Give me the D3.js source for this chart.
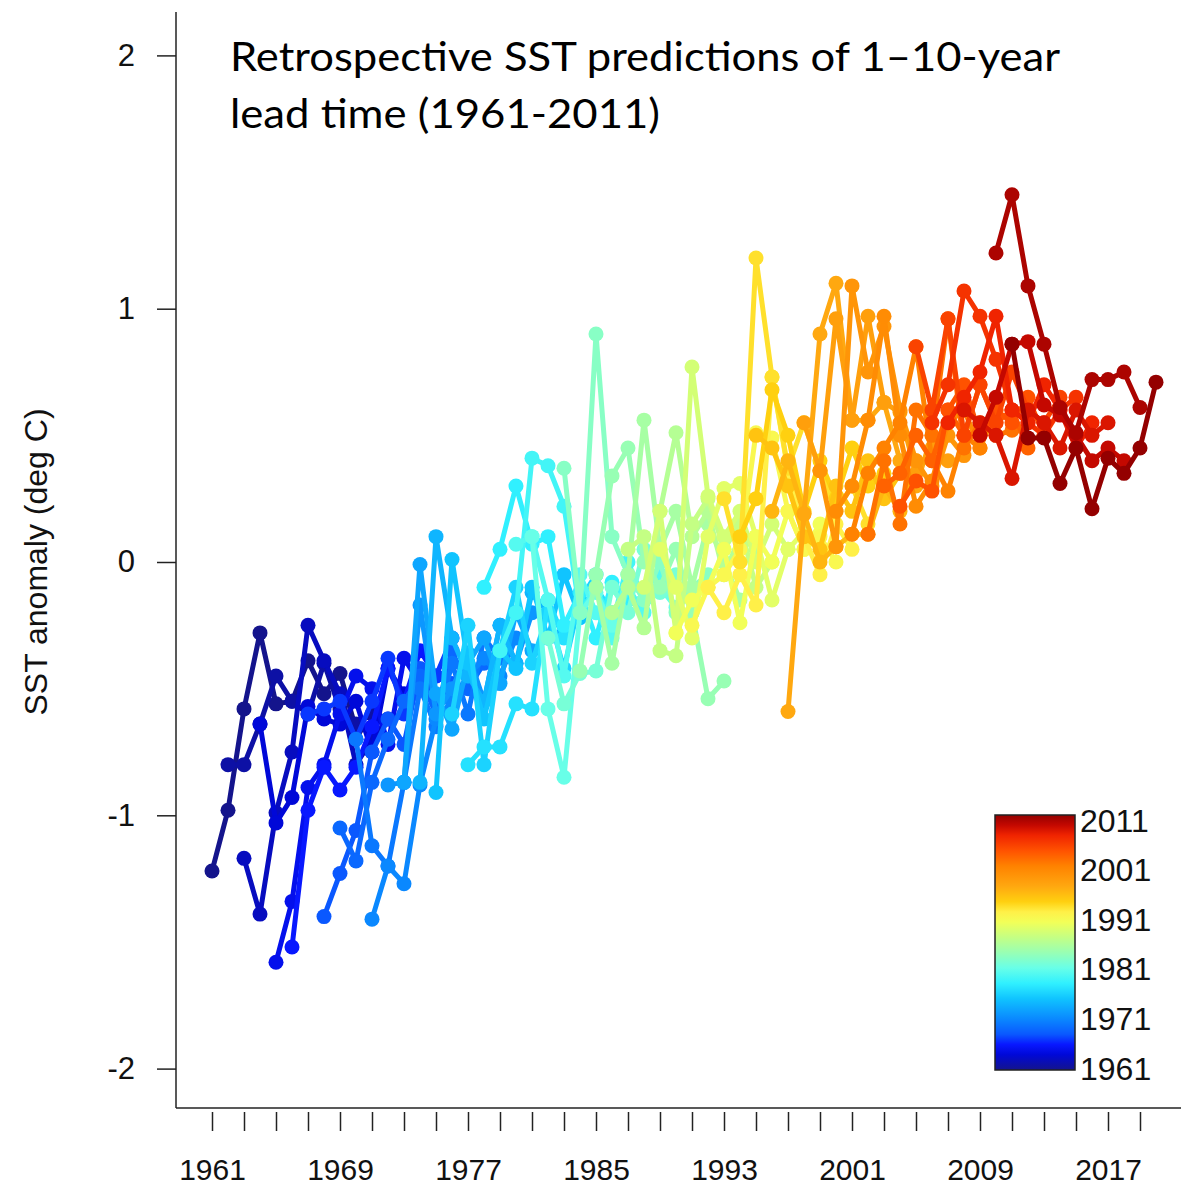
<!DOCTYPE html>
<html>
<head>
<meta charset="utf-8">
<script src="https://cdn.jsdelivr.net/npm/d3@7"></script>
<style>
body { margin: 0; background: #fff; }
svg { display: block; }
</style>
</head>
<body>
<svg id="chart" width="1181" height="1189"></svg>
<script>
// hindcast start years, one row of 10 annual values (lead 1..10) per start year
var starts1960s = [1961, 1962, 1963, 1964, 1965, 1966, 1967, 1968, 1969];
var runs1960s = [
    [-1.22, -0.98, -0.58, -0.28, -0.56, -0.55, -0.39, -0.52, -0.44, -0.66],
    [-0.80, -0.80, -0.64, -0.45, -0.55, -0.60, -0.40, -0.58, -0.64, -0.60],
    [-1.17, -1.39, -0.99, -0.75, -0.25, -0.39, -0.52, -0.80, -0.70, -0.62],
    [-0.64, -1.03, -0.93, -0.57, -0.62, -0.64, -0.55, -0.75, -0.42, -0.52],
    [-1.58, -1.34, -0.89, -0.80, -0.60, -0.45, -0.50, -0.72, -0.38, -0.48],
    [-1.52, -0.98, -0.81, -0.90, -0.81, -0.65, -0.42, -0.55, -0.35, -0.45],
    [-0.60, -0.58, -0.55, -0.70, -0.55, -0.38, -0.60, -0.50, -0.45, -0.30],
    [-1.40, -1.23, -1.06, -0.75, -0.62, -0.72, -0.42, -0.55, -0.48, -0.40],
    [-1.05, -1.18, -0.87, -0.70, -0.55, -0.45, -0.60, -0.35, -0.50, -0.40]
];
var starts1970s = [1970, 1971, 1972, 1973, 1974, 1975, 1976, 1977, 1978, 1979];
var runs1970s = [
    [-0.70, -1.12, -1.20, -0.87, -0.50, -0.65, -0.40, -0.60, -0.30, -0.38],
    [-1.41, -1.20, -1.27, -0.88, -0.62, -0.55, -0.45, -0.38, -0.45, -0.30],
    [-0.88, -0.87, -0.17, -0.60, -0.50, -0.36, -0.55, -0.25, -0.40, -0.20],
    [-0.87, -0.01, -0.52, -0.66, -0.40, -0.30, -0.48, -0.20, -0.35, -0.30],
    [-0.87, 0.10, -0.30, -0.45, -0.55, -0.25, -0.40, -0.12, -0.20, -0.28],
    [-0.91, 0.01, -0.40, -0.62, -0.35, -0.42, -0.10, -0.30, -0.05, -0.22],
    [-0.60, -0.25, -0.80, -0.35, -0.10, -0.40, -0.20, -0.42, -0.15, -0.05],
    [-0.80, -0.73, -0.73, -0.56, -0.58, -0.15, -0.30, -0.20, -0.10, -0.20],
    [-0.10, 0.05, 0.30, 0.07, 0.10, -0.25, -0.12, -0.30, -0.08, -0.15],
    [-0.35, -0.20, 0.41, 0.38, 0.22, -0.20, -0.10, -0.25, 0.00, -0.15]
];
var starts1980s = [1980, 1981, 1982, 1983, 1984, 1985, 1986, 1987, 1988, 1989];
var runs1980s = [
    [0.07, 0.10, -0.15, -0.45, -0.05, -0.20, -0.30, -0.10, -0.20, -0.05],
    [0.10, -0.58, -0.85, -0.20, -0.12, -0.25, -0.05, -0.15, -0.10, -0.18],
    [-0.30, -0.56, -0.44, -0.43, -0.10, -0.20, 0.05, -0.12, -0.05, -0.20],
    [0.37, -0.20, 0.90, 0.10, -0.05, -0.15, 0.00, -0.20, -0.10, -0.05],
    [-0.43, -0.05, 0.34, 0.45, 0.00, -0.10, 0.05, -0.20, -0.54, -0.47],
    [-0.10, -0.40, -0.05, 0.56, 0.05, 0.20, -0.10, 0.15, 0.00, -0.15],
    [-0.20, -0.10, -0.26, 0.20, 0.51, 0.10, 0.20, -0.05, 0.10, 0.05],
    [0.05, 0.10, -0.35, -0.37, 0.15, 0.25, 0.05, 0.15, -0.10, 0.00],
    [-0.10, 0.20, -0.28, 0.77, 0.26, 0.10, 0.20, 0.00, 0.15, 0.05],
    [0.05, -0.10, -0.30, 0.10, 0.29, 0.31, 0.10, -0.15, 0.05, 0.12]
];
var starts1990s = [1990, 1991, 1992, 1993, 1994, 1995, 1996, 1997, 1998, 1999];
var runs1990s = [
    [-0.28, -0.15, -0.10, 0.05, -0.24, 0.10, 0.00, 0.20, 0.05, 0.15],
    [-0.25, -0.10, -0.05, 0.05, 0.51, 0.49, 0.20, 0.05, 0.10, 0.00],
    [-0.10, -0.20, -0.05, -0.17, 0.73, 0.36, 0.10, -0.05, 0.15, 0.05],
    [0.25, 0.00, 1.20, 0.73, 0.37, 0.55, 0.36, 0.20, 0.30, 0.15],
    [0.10, 0.25, 0.68, 0.50, 0.20, 0.40, 0.25, 0.45, 0.30, 0.35],
    [0.50, 0.45, 0.30, 0.10, 0.05, 0.30, 0.20, 0.40, 0.25, 0.35],
    [0.20, 0.40, 0.19, 0.00, 0.06, 0.11, 0.11, 0.30, 0.20, 0.40],
    [-0.59, 0.19, 0.90, 1.10, 0.56, 0.56, 0.63, 0.40, 0.30, 0.50],
    [0.55, 0.36, 0.96, 0.56, 0.97, 0.63, 0.59, 0.35, 0.45, 0.40],
    [0.36, 0.06, 1.09, 0.75, 0.93, 0.60, 0.40, 0.30, 0.50, 0.42]
];
var starts2000s = [2000, 2001, 2002, 2003, 2004, 2005, 2006, 2007, 2008, 2009];
var runs2000s = [
    [0.20, 0.30, 0.56, 0.97, 0.50, 0.22, 0.32, 0.55, 0.60, 0.45],
    [0.11, 0.35, 0.45, 0.55, 0.85, 0.40, 0.28, 0.50, 0.45, 0.60],
    [0.11, 0.40, 0.15, 0.60, 0.50, 0.96, 0.45, 0.55, 0.50, 0.52],
    [0.30, 0.35, 0.50, 0.40, 0.60, 0.50, 0.70, 0.55, 0.60, 0.45],
    [0.22, 0.32, 0.28, 0.60, 0.70, 0.50, 0.60, 0.55, 0.65, 0.50],
    [0.85, 0.60, 0.96, 0.50, 0.70, 0.55, 0.75, 0.60, 0.55, 0.65],
    [0.55, 0.70, 1.07, 0.97, 0.80, 0.60, 0.55, 0.50, 0.60, 0.65],
    [0.55, 0.65, 0.75, 0.97, 0.60, 0.55, 0.70, 0.60, 0.45, 0.55],
    [0.60, 0.55, 0.50, 0.33, 0.60, 0.55, 0.45, 0.60, 0.50, 0.55],
    [0.50, 0.65, 0.86, 0.87, 0.62, 0.58, 0.50, 0.40, 0.45, 0.40]
];
var starts2010s = [2010, 2011];
var runs2010s = [
    [1.22, 1.45, 1.09, 0.86, 0.61, 0.51, 0.72, 0.72, 0.75, 0.61],
    [0.86, 0.49, 0.49, 0.31, 0.45, 0.21, 0.41, 0.35, 0.45, 0.71]
];

var xTicks = [1961, 1963, 1965, 1967, 1969, 1971, 1973, 1975, 1977, 1979, 1981, 1983, 1985, 1987, 1989,
    1991, 1993, 1995, 1997, 1999, 2001, 2003, 2005, 2007, 2009, 2011, 2013, 2015, 2017, 2019];
var xLabels = [1961, 1969, 1977, 1985, 1993, 2001, 2009, 2017];
var yTicks = [-2, -1, 0, 1, 2];
var cbTicks = [1961, 1971, 1981, 1991, 2001, 2011];
// jet-like palette
var cmapYears = [1961, 1964, 1966, 1968, 1971, 1975, 1978, 1981, 1984, 1987, 1990, 1992, 1994, 1997, 2001, 2004, 2007, 2009, 2011];
var cmapColors = ["#14148c", "#0008d8", "#0818ff", "#0a58ff", "#0a88ff", "#10c4ff", "#30f0ff", "#68ffe8", "#98ffb4",
    "#c4ff84", "#f2ff58", "#fff048", "#ffd010", "#ffa810", "#ff8200", "#ff5200", "#f02400", "#c40800", "#940000"];

var runs = [];
[[starts1960s, runs1960s], [starts1970s, runs1970s], [starts1980s, runs1980s],
 [starts1990s, runs1990s], [starts2000s, runs2000s], [starts2010s, runs2010s]].forEach(function (pair) {
    pair[0].forEach(function (s, i) {
        runs.push({ start: s, values: pair[1][i].map(function (v, k) { return { year: s + k, value: v }; }) });
    });
});

var svg = d3.select("#chart");
var x = d3.scaleLinear().domain([1961, 2019]).range([212, 1140]);
var y = d3.scaleLinear().domain([-2, 2]).range([1068.6, 55.4]);
var color = d3.scaleLinear().domain(cmapYears).range(cmapColors).interpolate(d3.interpolateRgb);

var axisFont = "'Liberation Sans', Arial, sans-serif";

// frame lines
svg.append("line").attr("x1", 176).attr("x2", 176).attr("y1", 12).attr("y2", 1108)
    .attr("stroke", "#222").attr("stroke-width", 1.5);
svg.append("line").attr("x1", 176).attr("x2", 1181).attr("y1", 1108).attr("y2", 1108)
    .attr("stroke", "#222").attr("stroke-width", 1.5);

var yAxis = svg.append("g").attr("transform", "translate(176,0)")
    .call(d3.axisLeft(y).tickValues(yTicks).tickSize(19).tickPadding(22).tickFormat(function (d) { return String(d); }));
yAxis.select(".domain").remove();
yAxis.selectAll(".tick line").attr("stroke", "#222").attr("stroke-width", 1.5);
yAxis.selectAll("text").attr("font-family", axisFont).attr("font-size", 31).attr("fill", "#111");

var xAxis = svg.append("g").attr("transform", "translate(0,1112)")
    .call(d3.axisBottom(x).tickValues(xTicks).tickSize(19).tickPadding(28)
        .tickFormat(function (d) { return xLabels.indexOf(d) >= 0 ? String(d) : ""; }));
xAxis.select(".domain").remove();
xAxis.selectAll(".tick line").attr("stroke", "#222").attr("stroke-width", 1.5);
xAxis.selectAll("text").attr("font-family", axisFont).attr("font-size", 30).attr("fill", "#111");

svg.append("text")
    .attr("transform", "translate(47,562) rotate(-90)")
    .attr("text-anchor", "middle")
    .attr("font-family", axisFont).attr("font-size", 32).attr("fill", "#111")
    .text("SST anomaly (deg C)");

// hindcast lines
var line = d3.line().x(function (d) { return x(d.year); }).y(function (d) { return y(d.value); });
var runG = svg.append("g").selectAll("g").data(runs).enter().append("g");
runG.append("path")
    .attr("d", function (d) { return line(d.values); })
    .attr("fill", "none")
    .attr("stroke", function (d) { return color(d.start); })
    .attr("stroke-width", 5)
    .attr("stroke-linejoin", "round");
runG.selectAll("circle").data(function (d) { return d.values.map(function (p) { return { year: p.year, value: p.value, start: d.start }; }); })
    .enter().append("circle")
    .attr("cx", function (d) { return x(d.year); })
    .attr("cy", function (d) { return y(d.value); })
    .attr("r", 7.5)
    .attr("fill", function (d) { return color(d.start); });

// title
svg.append("text").attr("x", 230).attr("y", 71)
    .attr("font-family", "Lato, 'Open Sans', sans-serif").attr("font-size", 40).attr("fill", "#000")
    .attr("textLength", 830).attr("lengthAdjust", "spacingAndGlyphs")
    .text("Retrospective SST predictions of 1\u201310-year");
svg.append("text").attr("x", 230).attr("y", 128)
    .attr("font-family", "Lato, 'Open Sans', sans-serif").attr("font-size", 40).attr("fill", "#000")
    .attr("textLength", 430).attr("lengthAdjust", "spacingAndGlyphs")
    .text("lead time (1961-2011)");

// colour bar
var cb = d3.scaleLinear().domain([1961, 2011]).range([1068, 820]);
var defs = svg.append("defs");
var grad = defs.append("linearGradient").attr("id", "cbGrad")
    .attr("x1", 0).attr("y1", 1).attr("x2", 0).attr("y2", 0);
grad.selectAll("stop").data(cmapYears).enter().append("stop")
    .attr("offset", function (d) { return (d - 1961) / 50; })
    .attr("stop-color", function (d) { return color(d); });
svg.append("rect").attr("x", 995).attr("y", 815).attr("width", 80).attr("height", 255)
    .attr("fill", "url(#cbGrad)").attr("stroke", "#222").attr("stroke-width", 1.5);
svg.append("g").selectAll("text").data(cbTicks).enter().append("text")
    .attr("x", 1080).attr("y", function (d) { return cb(d); })
    .attr("dy", "0.36em")
    .attr("font-family", axisFont).attr("font-size", 32).attr("fill", "#111")
    .text(function (d) { return d; });
</script>
</body>
</html>
